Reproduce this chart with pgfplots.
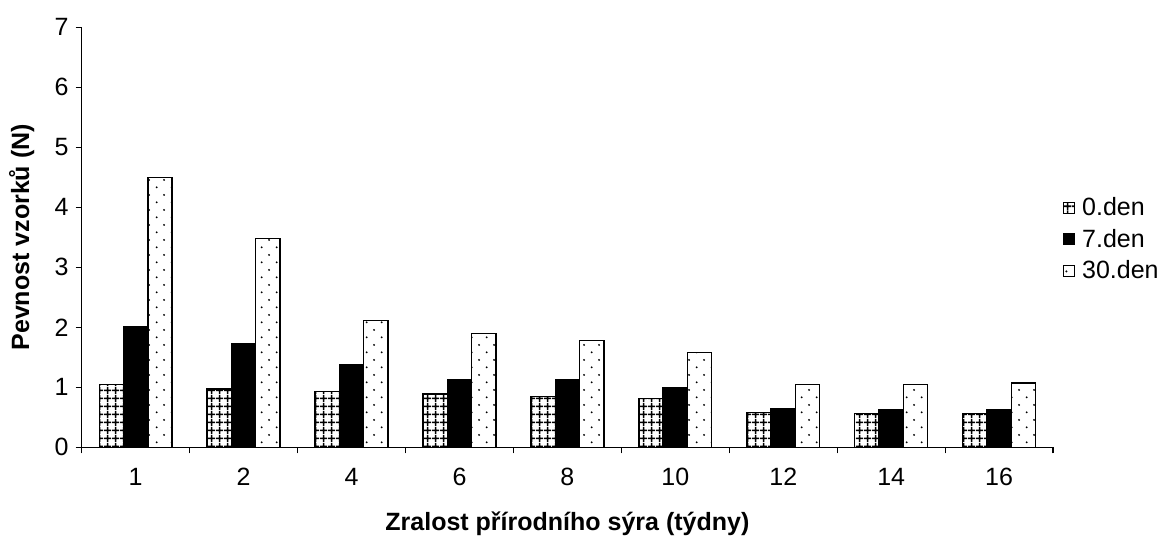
\documentclass[border=0pt]{standalone}
\usepackage{fontspec}
\setmainfont{Liberation Sans}
\usepackage{pgfplots}
\usepackage{pgfplotstable}
\pgfplotsset{compat=1.18}
\usetikzlibrary{patterns}

% checked fill for the first series
\pgfdeclarepatternformonly{cheesegrid}{\pgfqpoint{0pt}{0pt}}{\pgfqpoint{4pt}{4pt}}{\pgfqpoint{4pt}{4pt}}{%
  \pgfsetlinewidth{0.85pt}%
  \pgfpathmoveto{\pgfqpoint{0pt}{2pt}}\pgfpathlineto{\pgfqpoint{4pt}{2pt}}%
  \pgfpathmoveto{\pgfqpoint{2pt}{0pt}}\pgfpathlineto{\pgfqpoint{2pt}{4pt}}%
  \pgfusepath{stroke}}
% sparse staggered dots for the last series
\pgfdeclarepatternformonly{sparsedots}{\pgfqpoint{0pt}{0pt}}{\pgfqpoint{7.7pt}{7.7pt}}{\pgfqpoint{7.7pt}{7.7pt}}{%
  \pgfpathcircle{\pgfqpoint{1.9pt}{1.9pt}}{0.55pt}%
  \pgfpathcircle{\pgfqpoint{5.75pt}{5.75pt}}{0.55pt}%
  \pgfusepath{fill}}

% small square legend swatch, with a little room before the text
\pgfplotsset{squareleg/.style={legend image code/.code={%
  \draw[##1, line width=0.5pt] (0pt,-2.75pt) rectangle (5.5pt,2.75pt);
  \path (6.8pt,0pt);}}}

\pgfplotstableread{
x  d0    d7    d30
0  1.05  2.01  4.50
1  0.97  1.72  3.48
2  0.93  1.37  2.11
3  0.89  1.12  1.90
4  0.85  1.12  1.78
5  0.81  0.99  1.58
6  0.58  0.64  1.05
7  0.56  0.62  1.05
8  0.56  0.62  1.07
}\pevnost

\begin{document}
\begin{tikzpicture}
\useasboundingbox (-40.85pt,-44.85pt) rectangle (546.65pt,223.65pt);
\begin{axis}[
  scale only axis,
  width=485.7pt, height=210pt,
  ybar=0pt, bar width=12.15pt,
  xmin=-0.5, xmax=8.5, ymin=0, ymax=7,
  axis x line*=bottom, axis y line*=left,
  axis line style={line width=0.6pt},
  xtick={0,...,8},
  xticklabels={1,2,4,6,8,10,12,14,16},
  major x tick style={draw=none},
  minor xtick={-0.5,0.5,...,8.5},
  ytick={0,...,7},
  tick align=outside,
  major tick length=3pt, minor tick length=3pt,
  tick style={black, line width=0.6pt},
  /pgf/number format/assume math mode=true,
  tick label style={font=\fontsize{12.5}{15}\selectfont},
  xticklabel style={yshift=-4pt},
  xlabel={Zralost přírodního sýra (týdny)},
  ylabel={Pevnost vzorků (N)},
  label style={font=\fontsize{12.5}{15}\selectfont\bfseries},
  xlabel style={at={(axis description cs:0.5,0)}, anchor=center, yshift=-38pt},
  ylabel style={at={([xshift=-30pt]axis description cs:0,0.5)}, anchor=center},
  legend style={at={(axis description cs:1.004,0.616)}, anchor=north west,
    draw=none, fill=none, row sep=1.4pt,
    font=\fontsize{12.5}{15}\selectfont},
  legend cell align=left,
]
\addplot[draw=black, line width=0.7pt, pattern=cheesegrid, pattern color=black, squareleg]
  table[x=x, y=d0] {\pevnost};
\addplot[draw=black, line width=0.7pt, fill=black, squareleg]
  table[x=x, y=d7] {\pevnost};
\addplot[draw=black, line width=0.7pt, pattern=sparsedots, pattern color=black, squareleg]
  table[x=x, y=d30] {\pevnost};
\legend{0.den, 7.den, 30.den}
\end{axis}
\end{tikzpicture}
\end{document}
